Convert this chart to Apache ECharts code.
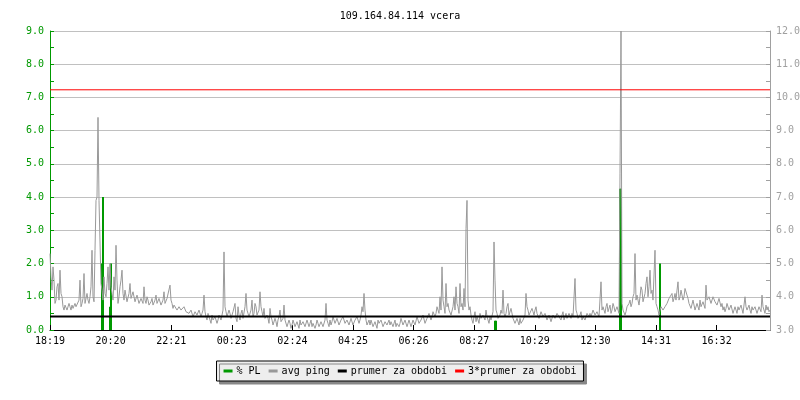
<!DOCTYPE html>
<html>
<head>
<meta charset="utf-8">
<script src="https://cdn.jsdelivr.net/npm/echarts@6/dist/echarts.min.js"></script>
<style>html,body{margin:0;padding:0;background:#fff}#c{width:800px;height:400px}</style>
</head>
<body>
<div id="c"></div>
<script>
var titleText = '109.164.84.114 vcera';
var xTickLabels = ['18:19','20:20','22:21','00:23','02:24','04:25','06:26','08:27','10:29','12:30','14:31','16:32'];
var xTickStep = 121.2;      // minutes between labelled ticks
var xSpan = 1440;           // minutes shown
var sampleStep = 2;         // minutes between avg ping samples

// avg ping (right axis), one value every 2 minutes from 18:19
var avgPing = [
 5.3,4.6,4.2,4.9,4.5,3.8,3.9,4.3,4.4,3.9,4.8,4.1,4.0,3.7,3.6,3.75,3.7,3.6,3.65,3.8,
 3.7,3.6,3.75,3.65,3.6,3.8,3.7,3.65,3.75,3.9,4.5,3.7,3.8,3.95,4.7,3.8,3.85,4.1,3.9,3.8,
 4.0,4.3,5.4,4.0,3.85,5.4,6.9,7.0,9.4,6.9,6.9,4.4,4.2,3.9,4.6,4.1,4.0,4.4,4.9,4.2,
 5.0,4.3,4.1,3.9,4.6,4.2,5.55,4.5,3.8,4.0,4.3,4.5,4.8,4.1,3.9,4.2,4.2,3.85,3.8,4.1,
 4.4,3.95,3.9,4.15,4.1,3.85,3.8,4.05,4.0,3.8,3.75,3.95,3.9,3.8,4.3,3.9,3.8,4.0,3.9,3.75,
 3.7,3.85,3.95,3.75,3.8,3.9,4.05,3.8,3.75,3.95,3.9,3.75,3.8,3.9,4.15,3.8,3.85,3.95,3.9,4.0,
 4.35,3.9,3.8,3.65,3.75,3.8,3.7,3.6,3.6,3.7,3.75,3.6,3.65,3.55,3.7,3.65,3.55,3.6,3.6,3.5,
 3.5,3.6,3.55,3.4,3.45,3.55,3.6,3.45,3.5,3.6,3.55,3.4,3.5,3.6,4.05,3.55,3.4,3.3,3.5,3.4,
 3.35,3.2,3.45,3.3,3.25,3.4,3.4,3.2,3.3,3.45,3.5,3.3,3.25,3.6,5.35,3.7,3.55,3.4,3.45,3.6,
 3.5,3.35,3.3,3.55,3.6,3.8,3.35,3.25,3.7,3.45,3.3,3.5,3.6,3.35,3.4,3.7,4.1,3.6,3.5,3.4,
 3.45,3.6,3.9,3.4,3.5,3.8,3.7,3.45,3.4,3.6,4.15,3.7,3.55,3.4,3.65,3.35,3.3,3.45,3.35,3.2,
 3.65,3.4,3.3,3.15,3.2,3.35,3.25,3.1,3.3,3.4,3.6,3.25,3.2,3.35,3.75,3.3,3.3,3.1,3.15,3.3,
 3.2,3.05,3.15,3.3,3.25,3.1,3.1,3.25,3.2,3.05,3.3,3.15,3.1,3.25,3.2,3.1,3.15,3.3,3.25,3.1,
 3.2,3.3,3.1,3.2,3.25,3.05,3.15,3.3,3.2,3.1,3.1,3.25,3.25,3.1,3.15,3.3,3.8,3.3,3.2,3.1,
 3.3,3.15,3.25,3.4,3.35,3.2,3.2,3.35,3.3,3.15,3.15,3.3,3.25,3.4,3.35,3.2,3.2,3.3,3.3,3.15,
 3.2,3.35,3.3,3.15,3.15,3.3,3.25,3.4,3.35,3.2,3.3,3.45,3.7,3.55,4.1,3.6,3.3,3.15,3.2,3.3,
 3.15,3.3,3.25,3.1,3.1,3.25,3.2,3.05,3.3,3.2,3.15,3.3,3.2,3.1,3.1,3.25,3.25,3.15,3.2,3.3,
 3.15,3.25,3.3,3.1,3.2,3.3,3.1,3.2,3.25,3.1,3.2,3.35,3.3,3.15,3.15,3.3,3.25,3.1,3.2,3.3,
 3.25,3.1,3.15,3.3,3.3,3.15,3.2,3.4,3.35,3.2,3.15,3.3,3.3,3.45,3.4,3.2,3.2,3.35,3.35,3.5,
 3.5,3.3,3.4,3.55,3.6,3.4,3.5,3.7,3.65,3.5,4.0,3.6,4.9,3.9,3.7,3.5,4.4,3.7,3.8,3.6,
 3.6,3.45,3.5,3.7,4.0,3.6,4.3,3.8,3.7,3.5,4.4,3.7,3.8,3.6,4.25,3.7,6.05,6.9,3.9,3.6,
 3.7,3.45,3.3,3.2,3.4,3.55,3.25,3.4,3.35,3.2,3.5,3.35,3.3,3.45,3.4,3.3,3.6,3.4,3.3,3.2,
 3.4,3.3,3.35,3.55,5.65,4.5,3.6,3.5,3.35,3.3,3.45,3.6,3.5,4.2,3.5,3.4,3.5,3.7,3.8,3.45,
 3.4,3.65,3.7,3.35,3.3,3.2,3.2,3.35,3.25,3.15,3.35,3.2,3.15,3.3,3.3,3.45,4.1,3.7,3.6,3.45,
 3.5,3.4,3.65,3.55,3.45,3.6,3.7,3.5,3.5,3.35,3.4,3.55,3.55,3.4,3.35,3.5,3.45,3.3,3.3,3.45,
 3.4,3.25,3.3,3.45,3.5,3.35,3.35,3.5,3.55,3.4,3.4,3.3,3.45,3.55,3.3,3.4,3.5,3.35,3.4,3.5,
 3.45,3.35,3.5,3.4,3.45,4.55,3.6,3.5,3.35,3.3,3.45,3.55,3.3,3.4,3.4,3.3,3.35,3.5,3.45,3.4,
 3.5,3.4,3.45,3.6,3.6,3.45,3.4,3.55,3.55,3.4,3.45,4.45,3.6,3.7,3.6,3.5,3.7,3.8,3.55,3.6,
 3.75,3.5,3.6,3.8,3.7,3.55,3.55,3.7,3.65,3.5,7.7,12.0,3.8,3.6,3.6,3.45,3.55,3.7,3.7,3.8,
 3.9,3.7,3.8,4.0,4.1,5.3,3.9,4.05,3.9,3.75,4.0,4.3,4.2,3.85,3.8,4.1,4.4,4.6,4.0,4.3,
 4.8,4.1,4.2,3.9,3.9,5.4,3.8,3.7,3.6,3.45,3.6,3.7,3.75,3.6,3.55,3.7,3.65,3.8,3.8,3.95,
 3.9,4.0,4.1,3.85,3.95,4.1,3.9,4.2,4.45,3.9,4.0,4.2,4.15,3.9,4.0,4.25,4.3,4.05,3.95,3.8,
 3.8,3.65,3.7,3.9,3.85,3.6,3.65,3.8,3.75,3.6,3.9,3.7,3.7,3.85,3.8,3.65,4.35,3.9,3.85,4.0,
 4.0,3.8,3.85,4.0,4.05,3.85,3.9,3.75,3.75,3.95,3.95,3.7,3.8,3.6,3.7,3.55,3.65,3.8,3.75,3.6,
 3.6,3.75,3.7,3.5,3.55,3.7,3.65,3.5,3.7,3.6,3.6,3.75,3.75,3.5,3.55,4.0,3.7,3.6,3.65,3.75,
 3.6,3.5,3.7,3.6,3.55,3.7,3.65,3.5,3.6,3.7,3.7,3.55,4.05,3.7,3.65,3.5,3.75,3.6,3.7,3.55,3.6
];

// packet loss (left axis): minute offset, percent
var plMinutes = [104, 106, 120, 122, 890, 892, 1140, 1142, 1220];
var plValues  = [2.0, 4.0, 0.7, 2.0, 0.28, 0.28, 4.25, 4.25, 2.0];

var avgOfPeriod = 3.41;
var tripleAvg = 10.23;

var seriesNames = ['% PL', 'avg ping', 'prumer za obdobi', '3*prumer za obdobi'];

var mono = 'DejaVu Sans Mono';
var pingData = avgPing.map(function (v, i) { return [i * sampleStep, v]; });
var plData = plMinutes.map(function (m, i) { return [m, plValues[i]]; });

var chart = echarts.init(document.getElementById('c'), null, {renderer: 'canvas'});
chart.setOption({
  animation: false,
  backgroundColor: '#ffffff',
  title: {
    text: titleText, left: 'center', top: 6,
    textStyle: {fontFamily: mono, fontSize: 10, fontWeight: 'normal', color: '#000'}
  },
  grid: {left: 50, right: 30, top: 31, bottom: 70, containLabel: false, outerBoundsMode: 'none'},
  legend: {
    data: seriesNames,
    left: 'center', top: 361,
    icon: 'rect', itemWidth: 9, itemHeight: 3, itemGap: 8,
    padding: [5, 7],
    backgroundColor: '#eeeeee', borderColor: '#000', borderWidth: 1,
    shadowColor: '#888', shadowOffsetX: 3, shadowOffsetY: 3, shadowBlur: 0,
    textStyle: {fontFamily: mono, fontSize: 10, color: '#000', padding: [0, 0, 0, -1]}
  },
  xAxis: {
    type: 'value', min: 0, max: xSpan, interval: xTickStep,
    axisLine: {show: true, lineStyle: {color: '#000', width: 1}},
    axisTick: {show: true, inside: true, length: 5, lineStyle: {color: '#000'}},
    axisLabel: {
      fontFamily: mono, fontSize: 10, color: '#000', margin: 6,
      showMaxLabel: false,
      formatter: function (v) { var k = Math.round(v / xTickStep); return xTickLabels[k] || ''; }
    },
    splitLine: {show: false}
  },
  yAxis: [
    {
      type: 'value', min: 0, max: 9, interval: 1, position: 'left',
      axisLine: {show: true, lineStyle: {color: '#009900', width: 1}},
      axisTick: {show: true, inside: true, length: 4, lineStyle: {color: '#009900'}},
      minorTick: {show: true, splitNumber: 2, length: 4, lineStyle: {color: '#009900'}},
      axisLabel: {fontFamily: mono, fontSize: 10, color: '#009900', margin: 6,
        formatter: function (v) { return v.toFixed(1); }},
      splitLine: {show: true, lineStyle: {color: '#c0c0c0', width: 1}}
    },
    {
      type: 'value', min: 3, max: 12, interval: 1, position: 'right',
      axisLine: {show: true, lineStyle: {color: '#a0a0a0', width: 1}},
      axisTick: {show: true, inside: true, length: 4, lineStyle: {color: '#a0a0a0'}},
      minorTick: {show: true, splitNumber: 2, length: 4, lineStyle: {color: '#a0a0a0'}},
      axisLabel: {fontFamily: mono, fontSize: 10, color: '#a0a0a0', margin: 6,
        formatter: function (v) { return v.toFixed(1); }},
      splitLine: {show: false}
    }
  ],
  series: [
    {
      name: seriesNames[0], type: 'bar', yAxisIndex: 0, data: plData,
      barWidth: 2, itemStyle: {color: '#009900'}, silent: true
    },
    {
      name: seriesNames[1], type: 'line', yAxisIndex: 1, data: pingData,
      showSymbol: false, symbol: 'none', clip: true,
      lineStyle: {color: '#999999', width: 1}, itemStyle: {color: '#999999'}
    },
    {
      name: seriesNames[2], type: 'line', yAxisIndex: 1,
      data: [[0, avgOfPeriod], [xSpan, avgOfPeriod]],
      showSymbol: false, symbol: 'none',
      lineStyle: {color: '#000000', width: 2}, itemStyle: {color: '#000000'}
    },
    {
      name: seriesNames[3], type: 'line', yAxisIndex: 1,
      data: [[0, tripleAvg], [xSpan, tripleAvg]],
      showSymbol: false, symbol: 'none',
      lineStyle: {color: '#ff0000', width: 1}, itemStyle: {color: '#ff0000'}
    }
  ]
});
</script>
</body>
</html>
